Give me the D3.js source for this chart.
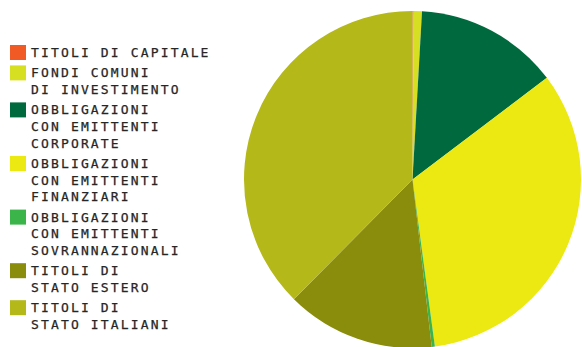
<!DOCTYPE html>
<html>
<head>
<meta charset="utf-8">
<script src="https://cdn.jsdelivr.net/npm/d3@7"></script>
<style>
  body { margin: 0; background: #fff; }
  svg { display: block; }
</style>
</head>
<body>
<div id="chart"></div>
<script>
// Data
//////////////////////////////////////////////////////////////////////
const categories = [
  ["TITOLI DI CAPITALE"],
  ["FONDI COMUNI", "DI INVESTIMENTO"],
  ["OBBLIGAZIONI", "CON EMITTENTI", "CORPORATE"],
  ["OBBLIGAZIONI", "CON EMITTENTI", "FINANZIARI"],
  ["OBBLIGAZIONI", "CON EMITTENTI", "SOVRANNAZIONALI"],
  ["TITOLI DI", "STATO ESTERO"],
  ["TITOLI DI", "STATO ITALIANI"]
];
const values = [0.1, 0.8, 13.8, 33.2, 0.3, 14.25, 37.6];
const colors = ["#f15a24", "#d7df23", "#006a3e", "#ece812", "#3bb54a", "#8a8c0b", "#b4b819"];

// Variables
//////////////////////////////////////////////////////////////////////
const width = 582, height = 347;
const cx = 412.5, cy = 179.5, radius = 168.5;
const lineH = 16.6, gap = 3.8;   // legend spacing

const svg = d3.select("#chart").append("svg")
  .attr("width", width)
  .attr("height", height);

// Pie
const pie = d3.pie().sort(null).value(d => d)(values);
const arc = d3.arc().innerRadius(0).outerRadius(radius);

svg.append("g")
  .attr("transform", `translate(${cx},${cy})`)
  .selectAll("path")
  .data(pie)
  .join("path")
  .attr("fill", (d, i) => colors[i])
  .attr("d", arc);

// Legend
let y = 45;
const legend = svg.append("g")
  .attr("font-family", "'DejaVu Sans Mono', monospace")
  .attr("font-size", 13)
  .attr("letter-spacing", "2.15px")
  .attr("fill", "#262626")
  .attr("stroke", "#262626")
  .attr("stroke-width", 0.25);

categories.forEach((lines, i) => {
  legend.append("rect")
    .attr("x", 10).attr("y", y)
    .attr("width", 16).attr("height", 15)
    .attr("stroke", "none")
    .attr("fill", colors[i]);
  legend.append("text")
    .attr("x", 31).attr("y", y + 12)
    .selectAll("tspan")
    .data(lines)
    .join("tspan")
    .attr("x", 31)
    .attr("dy", (d, j) => j === 0 ? 0 : lineH)
    .text(d => d);
  y += lines.length * lineH + gap;
});
</script>
</body>
</html>
